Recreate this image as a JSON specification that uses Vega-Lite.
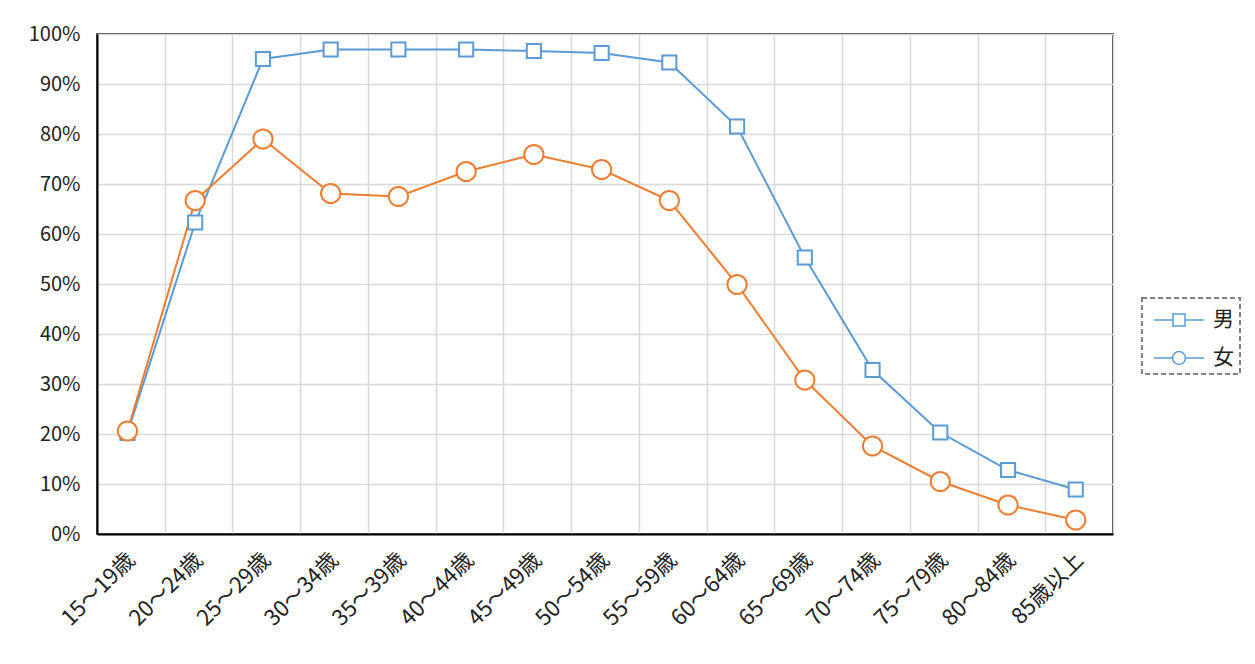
{
  "$schema": "https://vega.github.io/schema/vega-lite/v6.json",
  "autosize": {"type": "none"},
  "padding": {"left": 97, "top": 34, "right": 142, "bottom": 130},
  "width": 1016,
  "height": 500,
  "background": "white",
  "config": {
    "font": "Noto Sans CJK JP",
    "view": {"stroke": "black", "strokeWidth": 1.5},
    "axis": {"labelFont": "Noto Sans CJK JP", "labelColor": "#222", "gridColor": "#d9d9d9", "gridWidth": 1.5, "domainColor": "black", "domainWidth": 2, "ticks": false, "title": null},
    "legend": {"strokeDash": [5, 3], "strokeWidth": 2, "strokeColor": "#808080"}
  },
  "data": {"values": [
    {"age": "15～19歳", "sex": "男", "rate": 0.202},
    {"age": "20～24歳", "sex": "男", "rate": 0.623},
    {"age": "25～29歳", "sex": "男", "rate": 0.950},
    {"age": "30～34歳", "sex": "男", "rate": 0.969},
    {"age": "35～39歳", "sex": "男", "rate": 0.969},
    {"age": "40～44歳", "sex": "男", "rate": 0.969},
    {"age": "45～49歳", "sex": "男", "rate": 0.966},
    {"age": "50～54歳", "sex": "男", "rate": 0.962},
    {"age": "55～59歳", "sex": "男", "rate": 0.943},
    {"age": "60～64歳", "sex": "男", "rate": 0.815},
    {"age": "65～69歳", "sex": "男", "rate": 0.553},
    {"age": "70～74歳", "sex": "男", "rate": 0.328},
    {"age": "75～79歳", "sex": "男", "rate": 0.203},
    {"age": "80～84歳", "sex": "男", "rate": 0.128},
    {"age": "85歳以上", "sex": "男", "rate": 0.089},
    {"age": "15～19歳", "sex": "女", "rate": 0.206},
    {"age": "20～24歳", "sex": "女", "rate": 0.667},
    {"age": "25～29歳", "sex": "女", "rate": 0.790},
    {"age": "30～34歳", "sex": "女", "rate": 0.681},
    {"age": "35～39歳", "sex": "女", "rate": 0.675},
    {"age": "40～44歳", "sex": "女", "rate": 0.725},
    {"age": "45～49歳", "sex": "女", "rate": 0.759},
    {"age": "50～54歳", "sex": "女", "rate": 0.729},
    {"age": "55～59歳", "sex": "女", "rate": 0.667},
    {"age": "60～64歳", "sex": "女", "rate": 0.499},
    {"age": "65～69歳", "sex": "女", "rate": 0.308},
    {"age": "70～74歳", "sex": "女", "rate": 0.176},
    {"age": "75～79歳", "sex": "女", "rate": 0.105},
    {"age": "80～84歳", "sex": "女", "rate": 0.058},
    {"age": "85歳以上", "sex": "女", "rate": 0.028}
  ]},
  "encoding": {
    "x": {
      "field": "age", "type": "nominal", "sort": null, "bandPosition": 0.45,
      "scale": {"type": "band", "paddingInner": 0, "paddingOuter": 0},
      "axis": {"tickBand": "extent", "grid": true, "labelAngle": -45, "labelFontSize": 22, "labelPadding": 22, "labelAlign": "right", "labelBaseline": "middle"}
    },
    "y": {
      "field": "rate", "type": "quantitative",
      "scale": {"domain": [0, 1], "nice": false},
      "axis": {"format": ".0%", "values": [0, 0.1, 0.2, 0.3, 0.4, 0.5, 0.6, 0.7, 0.8, 0.9, 1.0], "grid": true, "labelFontSize": 20, "labelPadding": 17}
    },
    "color": {"field": "sex", "type": "nominal", "scale": {"domain": ["男", "女"], "range": ["#5b9bd5", "#ed7d31"]}, "legend": null}
  },
  "layer": [
    {"mark": {"type": "line", "strokeWidth": 2}},
    {
      "mark": {"type": "point", "filled": false, "fill": "white", "strokeWidth": 2, "opacity": 1},
      "encoding": {
        "shape": {"field": "sex", "type": "nominal", "scale": {"domain": ["男", "女"], "range": ["square", "circle"]}, "legend": null},
        "size": {"field": "sex", "type": "nominal", "scale": {"domain": ["男", "女"], "range": [200, 370]}, "legend": null}
      }
    },
    {
      "mark": {"type": "point", "filled": false, "strokeWidth": 2, "opacity": 0},
      "encoding": {
        "shape": {"field": "sex", "type": "nominal", "scale": {"domain": ["男", "女"], "range": ["M-1.667,0H-0.4M0.4,0H1.667M-0.4,-0.4H0.4V0.4H-0.4Z", "M-1.667,0H-0.43M0.43,0H1.667M-0.43,0A0.43,0.43 0 1,0 0.43,0A0.43,0.43 0 1,0 -0.43,0Z"]},
          "legend": {"orient": "none", "legendX": 1045, "legendY": 264, "title": null, "padding": 6, "symbolSize": 900, "rowPadding": 12, "symbolOffset": 15, "labelOffset": 18, "labelFontSize": 21, "labelColor": "#222", "symbolStrokeColor": "#5b9bd5",
            "encode": {"symbols": {"update": {"opacity": {"value": 1}, "fill": {"value": "white"}, "strokeWidth": {"value": 2}, "stroke": {"signal": "datum.value === '男' ? '#5b9bd5' : '#ed7d31'"}}}}}}
      }
    }
  ],
  "resolve": {"scale": {"shape": "independent", "size": "independent"}, "legend": {"shape": "independent"}}
}
